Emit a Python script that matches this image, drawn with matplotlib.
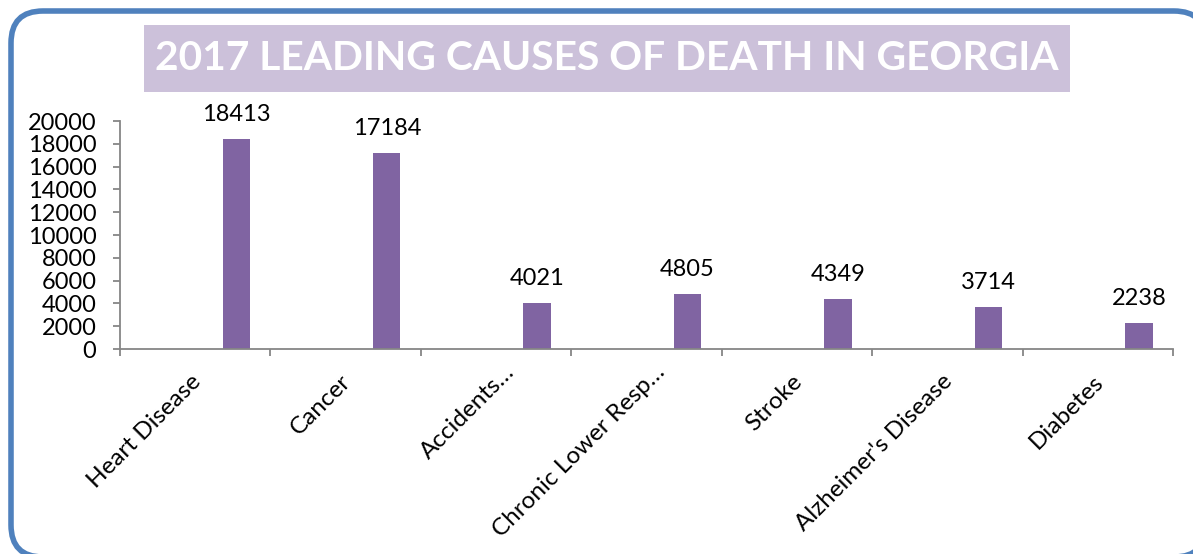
import numpy as np
import matplotlib.pyplot as plt
from matplotlib.patches import FancyBboxPatch, Rectangle

plt.rcParams['font.family'] = ['Lato', 'DejaVu Sans']

# data
causes = ["Heart Disease", "Cancer", "Accidents\u2026", "Chronic Lower Resp\u2026",
          "Stroke", "Alzheimer's Disease", "Diabetes"]
deaths = [18413, 17184, 4021, 4805, 4349, 3714, 2238]
title = "2017 LEADING CAUSES OF DEATH IN GEORGIA"

bar_color = "#8064A2"
axis_gray = "#868686"

W, H = 1193, 554
fig = plt.figure(figsize=(W / 100, H / 100), dpi=100)

# background layer in pixel coords: rounded frame + title band
bg = fig.add_axes([0, 0, 1, 1], zorder=0)
bg.set_xlim(0, W)
bg.set_ylim(H, 0)
bg.axis("off")
frame = FancyBboxPatch((11, 11), 1195, 546,
                       boxstyle="round,pad=0,rounding_size=32",
                       facecolor="white", edgecolor="#4F81BD", linewidth=4)
bg.add_patch(frame)
bg.add_patch(Rectangle((144, 25), 926, 67, facecolor="#CCC1DA", edgecolor="none"))
bg.text(607, 59, title, color="white", fontsize=29.3, fontweight="bold",
        ha="center", va="center")

# chart
ax = fig.add_axes([120 / W, 1 - 349 / H, (1173 - 120) / W, (349 - 121) / H], zorder=1)
ax.patch.set_alpha(0)
x = np.arange(len(causes))
bars = ax.bar(x + 0.273, deaths, width=0.182, color=bar_color)

for xi, v in zip(x, deaths):
    ax.annotate(str(v), (xi + 0.273, v), xytext=(0, 13), textcoords="offset points",
                ha="center", va="baseline", fontsize=17, color="black")

ax.set_xlim(-0.5, len(causes) - 0.5)
ax.set_ylim(0, 20000)
ax.set_yticks(np.arange(0, 20001, 2000))
ax.set_xticks(x)
ax.set_xticklabels([])
ax.set_xticks(np.arange(-0.5, len(causes)), minor=True)

# rotated category labels; truncated ones sit a bit further along their direction
for xi, name in zip(x, causes):
    dx, dy = (11, 7) if name.endswith("\u2026") else (1.5, 0)
    ax.annotate(name, (xi, 0), xycoords=ax.get_xaxis_transform(),
                xytext=(dx, -21 + dy), textcoords="offset points",
                rotation=45, ha="right", va="center", rotation_mode="anchor",
                fontsize=17.5, color="black", annotation_clip=False)

for s in ["top", "right"]:
    ax.spines[s].set_visible(False)
for s in ["left", "bottom"]:
    ax.spines[s].set_color(axis_gray)
    ax.spines[s].set_linewidth(1.3)

ax.tick_params(axis="y", labelsize=17, length=5, width=1.3, color=axis_gray, pad=12)
ax.tick_params(axis="x", which="major", length=0)
ax.tick_params(axis="x", which="minor", length=5, width=1.3, color=axis_gray)

fig.savefig("out.png", dpi=100)
